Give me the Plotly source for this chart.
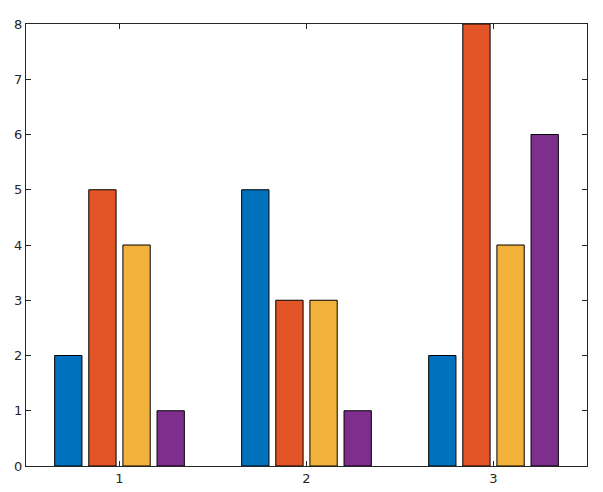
import plotly.graph_objects as go

categories = [1, 2, 3]
series_a = [2, 5, 2]
series_b = [5, 3, 8]
series_c = [4, 3, 4]
series_d = [1, 1, 6]
colors = ["#0072BD", "#E35426", "#F2B13B", "#7E2F8E"]

fig = go.Figure()
for vals, col in zip([series_a, series_b, series_c, series_d], colors):
    fig.add_trace(go.Bar(x=categories, y=vals, marker=dict(color=col, line=dict(color="black", width=1)),
                         showlegend=False))

axis_common = dict(showline=True, linecolor="#262626", linewidth=1, mirror="ticks",
                   ticks="inside", ticklen=5, tickcolor="#262626", showgrid=False, zeroline=False,
                   automargin=False,
                   tickfont=dict(family="DejaVu Sans", size=13, color="#262626"))

# page body has an 8px default margin; figure offset accounted for
fig.update_layout(
    width=587, height=484,
    margin=dict(l=18, r=8, t=16, b=26),
    paper_bgcolor="white", plot_bgcolor="white",
    barmode="group", bargap=0.27, bargroupgap=0.2,
    xaxis=dict(range=[0.5, 3.5], tickvals=categories, ticktext=["1", "2", "3"], **axis_common),
    yaxis=dict(range=[0, 8], dtick=1, **axis_common),
)
fig.write_html("out.html")
